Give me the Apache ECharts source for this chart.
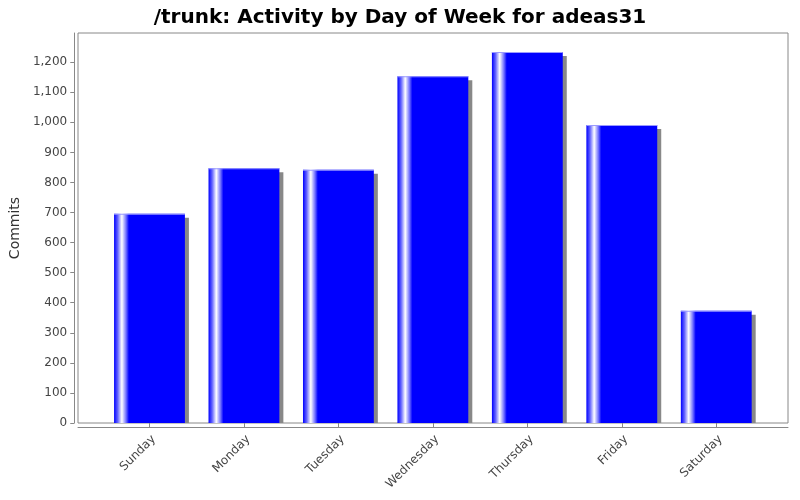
<!DOCTYPE html>
<html>
<head>
<meta charset="utf-8">
<script src="https://cdn.jsdelivr.net/npm/echarts@6/dist/echarts.min.js"></script>
<style>html,body{margin:0;padding:0;background:#fff}#c{width:800px;height:500px}</style>
</head>
<body>
<div id="c"></div>
<script>
var days = ['Sunday','Monday','Tuesday','Wednesday','Thursday','Friday','Saturday'];
var commits = [696, 847, 842, 1153, 1234, 991, 373];
var titleText = '/trunk: Activity by Day of Week for adeas31';
var yName = 'Commits';

var chart = echarts.init(document.getElementById('c'), null, {renderer:'canvas'});
function barGrad(){
  return new echarts.graphic.LinearGradient(0,0,1,0,[
    {offset:0, color:'#0000ff'},
    {offset:0.05, color:'#6060ff'},
    {offset:0.11, color:'#ffffff'},
    {offset:0.17, color:'#7070ff'},
    {offset:0.21, color:'#0000ff'},
    {offset:1, color:'#0000ff'}
  ]);
}
var font = 'DejaVu Sans';
var barData = days.map(function(d, i){ return [i, commits[i]]; });

chart.setOption({
  animation:false,
  backgroundColor:'#ffffff',
  title:{text:titleText, left:'center', top:3,
    textStyle:{fontFamily:font, fontWeight:'bold', fontSize:20, color:'#000'}},
  grid:[
    {left:78, top:33, width:710, height:390, show:true, borderColor:'#888', borderWidth:1, backgroundColor:'#fff'},
    {left:102, top:33, width:661.5, height:390}
  ],
  xAxis:[
    {gridIndex:0, type:'value', min:0, max:1, offset:4, position:'bottom',
      axisLine:{show:true, onZero:false, lineStyle:{color:'#888'}}, axisTick:{show:false}, axisLabel:{show:false}, splitLine:{show:false}},
    {gridIndex:1, type:'category', data:days, offset:4,
      axisLine:{show:false}, axisTick:{show:true, alignWithLabel:true, length:4, lineStyle:{color:'#888'}},
      axisLabel:{rotate:45, margin:6, verticalAlign:'top', fontFamily:font, fontSize:12, color:'#444'}}
  ],
  yAxis:[
    {gridIndex:0, type:'value', show:false, min:0, max:1, splitLine:{show:false}},
    {gridIndex:1, type:'value', min:0, max:1297, interval:100, offset:28,
      name:yName, nameLocation:'middle', nameGap:47,
      nameTextStyle:{fontFamily:font, fontSize:14, color:'#333'},
      axisLine:{show:true, lineStyle:{color:'#888'}},
      axisTick:{show:true, length:4, lineStyle:{color:'#888'}},
      axisLabel:{showMaxLabel:false, margin:7, fontFamily:font, fontSize:12, color:'#444',
        formatter:function(v){ return v % 100 === 0 ? v.toLocaleString('en-US') : ''; }},
      splitLine:{show:false}}
  ],
  series:[{
    type:'custom', xAxisIndex:1, yAxisIndex:1, data:barData, clip:true,
    encode:{x:0, y:1},
    renderItem:function(params, api){
      var top = api.coord([api.value(0), api.value(1)]);
      var base = api.coord([api.value(0), 0]);
      var w = api.size([1, 0])[0] * 0.75;
      var h = base[1] - top[1];
      return {type:'group', children:[
        {type:'rect', shape:{x:top[0]-w/2+4, y:top[1]+4, width:w, height:h-4}, style:{fill:'#888888'}},
        {type:'rect', shape:{x:top[0]-w/2, y:top[1], width:w, height:h}, style:{fill:barGrad()}},
        {type:'rect', shape:{x:top[0]-w/2, y:top[1], width:w, height:1}, style:{fill:'#9a9aff'}}
      ]};
    }
  }]
});
</script>
</body>
</html>
